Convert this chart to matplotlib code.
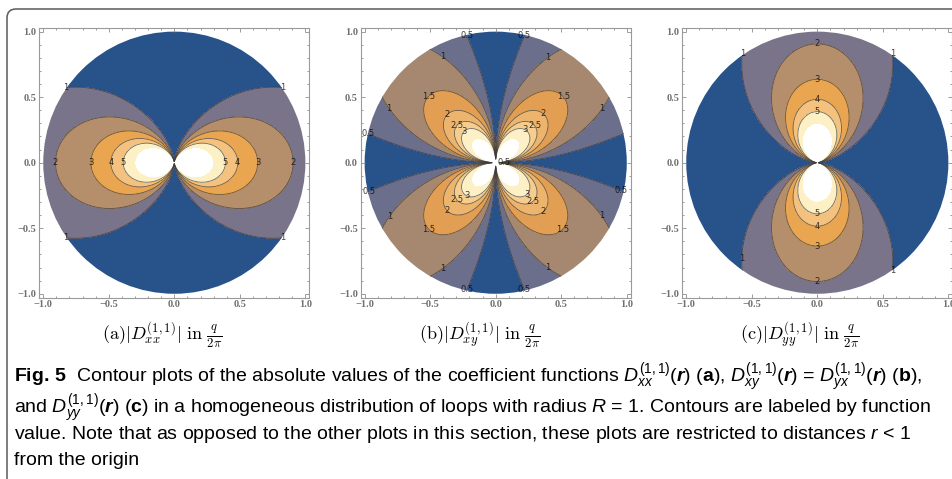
import numpy as np
import matplotlib.pyplot as plt
from matplotlib.patches import Circle, FancyBboxPatch
from matplotlib.transforms import IdentityTransform
from matplotlib.ticker import MultipleLocator

plt.rcParams['mathtext.fontset'] = 'custom'
plt.rcParams['mathtext.rm'] = 'Liberation Sans'
plt.rcParams['mathtext.it'] = 'Liberation Sans:italic'
plt.rcParams['mathtext.bf'] = 'Liberation Sans:bold'
plt.rcParams['mathtext.bfit'] = 'Liberation Sans:italic:bold'

W, H = 952, 479

# contour levels and band colours (white above the last level = clipped)
levels_xx = [0, 1, 2, 3, 4, 5, 6.5]
levels_xy = [0, 0.5, 1, 1.5, 2, 2.5, 3, 4.2]
levels_yy = [0, 1, 2, 3, 4, 5, 6.5]
colors_xx = ['#27528a', '#79748a', '#b58e6b', '#e9a550', '#f4c27e', '#fdf0c4']
colors_xy = ['#27528a', '#6b6f8c', '#a5886f', '#e29e52', '#ecb46c', '#f5cd8e', '#fdf0c6']
colors_yy = colors_xx

# radial model
k_inner = 1.0     # 1/r part
k_outer = 0.155   # r part
iso0, iso2 = -0.2, -0.35   # isotropic part on the diagonal terms

# where the contour labels sit (level: points)
lab_xx = {1: [(0.83, 0.57), (-0.83, 0.57), (0.83, -0.57), (-0.83, -0.57)],
          2: [(0.9, 0), (-0.9, 0)], 3: [(0.63, 0), (-0.63, 0)],
          4: [(0.49, 0), (-0.49, 0)], 5: [(0.39, 0), (-0.39, 0)]}
lab_yy = {1: [(0.57, 0.83), (-0.57, 0.83), (0.57, -0.82), (-0.57, -0.73)],
          2: [(0, 0.89), (0, -0.89)], 3: [(0, 0.63), (0, -0.63)],
          4: [(0, 0.48), (0, -0.48)], 5: [(0, 0.39), (0, -0.39)]}
lab_xy = {0.5: [(-0.22, 0.97), (0.22, 0.97), (-0.22, -0.97), (0.22, -0.97),
                (-0.97, 0.22), (-0.97, -0.21), (0.96, -0.21), (0.02, 0.0)],
          1: [(-0.41, 0.80), (0.40, 0.80), (-0.81, 0.42), (0.80, 0.42),
              (-0.81, -0.41), (0.80, -0.41), (-0.41, -0.80), (0.40, -0.80)],
          1.5: [(-0.50, 0.49), (0.50, 0.49), (-0.50, -0.50), (0.50, -0.50)],
          2: [(-0.37, 0.37), (0.36, 0.37), (-0.37, -0.37), (0.36, -0.37)],
          2.5: [(-0.32, 0.30), (0.33, 0.31), (-0.33, -0.31), (0.30, -0.32)],
          3: [(-0.22, 0.22), (0.20, 0.21), (-0.20, -0.21), (0.22, -0.22)]}

subcaps = [r'$\mathrm{(a)}|D^{(1,1)}_{xx}|\ \mathrm{in}\ \frac{q}{2\pi}$',
           r'$\mathrm{(b)}|D^{(1,1)}_{xy}|\ \mathrm{in}\ \frac{q}{2\pi}$',
           r'$\mathrm{(c)}|D^{(1,1)}_{yy}|\ \mathrm{in}\ \frac{q}{2\pi}$']

caption = [
    r'$\mathbf{Fig.\,5}$  Contour plots of the absolute values of the coefficient functions '
    r'$D^{(1,1)}_{xx}(\boldsymbol{r})$ ($\mathbf{a}$), $D^{(1,1)}_{xy}(\boldsymbol{r})$ = '
    r'$D^{(1,1)}_{yx}(\boldsymbol{r})$ ($\mathbf{b}$),',
    r'and $D^{(1,1)}_{yy}(\boldsymbol{r})$ ($\mathbf{c}$) in a homogeneous distribution of loops '
    r'with radius $R$ = 1. Contours are labeled by function',
    r'value. Note that as opposed to the other plots in this section, these plots are restricted '
    r'to distances $r$ < 1',
    'from the origin',
]

# field on a grid
g = np.linspace(-1.03, 1.03, 1000)
X, Y = np.meshgrid(g, g)
R = np.hypot(X, Y)
C, S = X / R, Y / R
F = k_inner / R + k_outer * R
iso = iso0 + iso2 * R**2
Dxx = np.abs(2 * C**2 * F + iso)
Dyy = np.abs(2 * S**2 * F + iso)
Dxy = np.abs(2 * C * S * F)

fig = plt.figure(figsize=(W / 100, H / 100), dpi=100)

# frame round the figure
fig.patches.append(FancyBboxPatch((7, -30), 1000, 479 - 9 + 30,
                                  boxstyle='round,pad=0,rounding_size=9',
                                  transform=IdentityTransform(), fill=False,
                                  edgecolor='#5a5a5a', linewidth=1.1))

panels = [(Dxx, levels_xx, colors_xx, lab_xx),
          (Dxy, levels_xy, colors_xy, lab_xy),
          (Dyy, levels_yy, colors_yy, lab_yy)]
lefts = [39.3, 360.7, 682.3]
tick_font = {'family': ['Liberation Serif', 'DejaVu Serif'], 'weight': 'bold', 'size': 7.5}

for i, (Z, levs, cols, labs) in enumerate(panels):
    ax = fig.add_axes([lefts[i] / W, 1 - 297.7 / H, 270 / W, 270 / H])
    disk = Circle((0, 0), 1.0, transform=ax.transData)
    cf = ax.contourf(X, Y, Z, levels=levs, colors=cols)
    cf.set_clip_path(disk)
    for lev in levs[1:-1]:
        cs = ax.contour(X, Y, Z, levels=[lev], colors='#3c3c3c',
                        linewidths=0.6, alpha=0.75)
        cs.set_clip_path(disk)
        if lev in labs:
            cs.clabel(manual=labs[lev], inline=False, fontsize=6,
                      colors='black', fmt=lambda v: f'{v:g}')
            for t in cs.labelTexts:
                t.set_rotation(0)
    ax.set_xlim(-1.03, 1.03)
    ax.set_ylim(-1.03, 1.03)
    ax.set_aspect('equal')
    ax.xaxis.set_minor_locator(MultipleLocator(0.1))
    ax.yaxis.set_minor_locator(MultipleLocator(0.1))
    ticks = [-1, -0.5, 0, 0.5, 1]
    tl = ['\u22121.0', '\u22120.5', '0.0', '0.5', '1.0']
    ax.set_xticks(ticks)
    ax.set_yticks(ticks)
    ax.set_xticklabels(tl, fontdict=tick_font)
    ax.set_yticklabels(tl, fontdict=tick_font)
    ax.tick_params(which='both', direction='in', top=True, right=True,
                   color='#8c8c8c', labelcolor='#707070', width=0.6, pad=2)
    ax.tick_params(which='major', length=3)
    ax.tick_params(which='minor', length=1.5)
    for sp in ax.spines.values():
        sp.set_color('#9a9a9a')
        sp.set_linewidth(0.8)

    fig.text([162, 480, 800][i] / W, 1 - 335 / H, subcaps[i], ha='center',
             va='center', fontsize=13, math_fontfamily='cm')

cap_font = ['Liberation Sans', 'DejaVu Sans']
for y, line in zip([382, 413, 439, 465], caption):
    fig.text(14 / W, 1 - y / H, line, ha='left', va='baseline',
             fontsize=14, family=cap_font)

fig.savefig('out.png', dpi=100)
